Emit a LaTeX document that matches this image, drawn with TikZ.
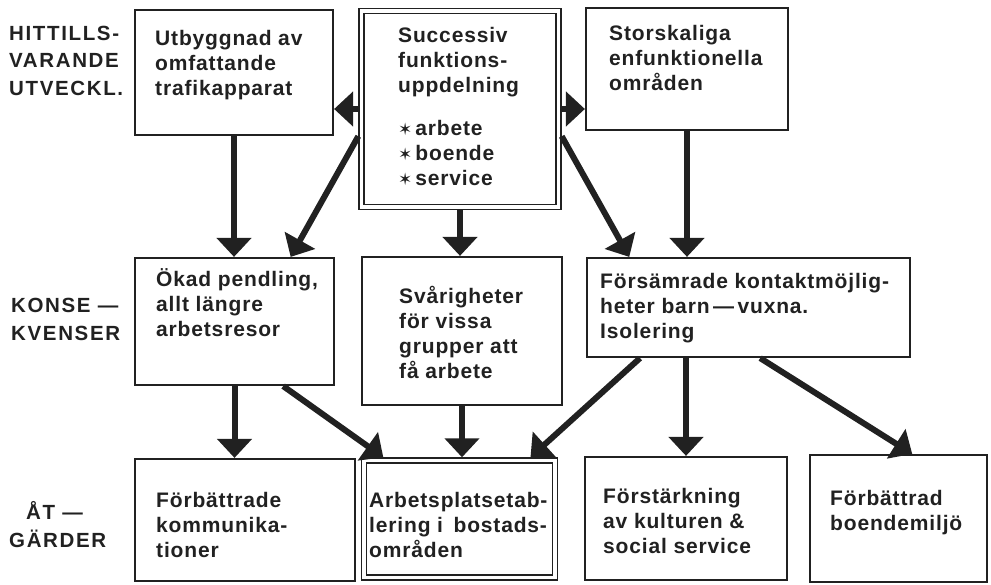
\documentclass[tikz,border=0pt]{standalone}
\usepackage{fontspec}
\usetikzlibrary{arrows.meta}

\newfontfamily\diafont[LetterSpace=4]{Liberation Sans}
\newfontfamily\headfont[LetterSpace=8]{Liberation Sans}
\newfontfamily\starfont{DejaVu Sans}
\definecolor{ink}{gray}{0.13}
\newcommand{\st}{{\starfont\bfseries\fontsize{17}{17}\selectfont ✶}\hspace{3pt}}

\begin{document}
\begin{tikzpicture}[x=1pt, y=-1pt,
  box/.style={draw=ink, line width=2.2pt, rectangle, inner sep=0pt},
  dbox/.style={draw=ink, line width=1.4pt, double=white, double distance=3.6pt, rectangle, inner sep=0pt, outer sep=3.2pt},
  txt/.style={anchor=base west, align=left, inner sep=0pt, text=ink, font=\diafont\bfseries\fontsize{21}{25}\selectfont},
  head/.style={anchor=base west, align=left, inner sep=0pt, text=ink, font=\headfont\bfseries\fontsize{20.5}{27.5}\selectfont},
  link/.style={draw=ink, line width=6pt, -{Triangle[width=34pt,length=19pt]}}]

\useasboundingbox (0,0) rectangle (991,584);

% Draw the boxes
\node[box, minimum width=198pt, minimum height=125pt] (b1) at (234,72.5) {};
\node[dbox, minimum width=197pt, minimum height=195.6pt] (b2) at (460,109) {};
\node[box, minimum width=202pt, minimum height=122pt] (b3) at (687,69) {};
\node[box, minimum width=199pt, minimum height=127pt] (b4) at (234.5,321.5) {};
\node[box, minimum width=200pt, minimum height=148pt] (b5) at (462,331) {};
\node[box, minimum width=323pt, minimum height=99pt] (b6) at (748.5,307.5) {};
\node[box, minimum width=220pt, minimum height=122pt] (b7) at (245,520) {};
\node[dbox, minimum width=191pt, minimum height=117pt] (b8) at (459.5,519) {};
\node[box, minimum width=202pt, minimum height=123pt] (b9) at (686,518.5) {};
\node[box, minimum width=177pt, minimum height=127pt] (b10) at (898.5,518.5) {};

% Texts in the boxes (anchored at the last baseline)
\node[txt] (t1) at (155,95) {Utbyggnad av\\omfattande\\trafikapparat};
\node[txt] (t2) at (398,185) {Successiv\\funktions-\\uppdelning\\[18pt]\st arbete\\\st boende\\\st service};
\node[txt] (t3) at (609,90) {Storskaliga\\enfunktionella\\områden};
\node[txt] (t4) at (156,336) {Ökad pendling,\\allt längre\\arbetsresor};
\node[txt] (t5) at (399,378) {Svårigheter\\för vissa\\grupper att\\få arbete};
\node[txt] (t6) at (600,338) {Försämrade kontaktmöjlig-\\heter barn\,—\,vuxna.\\Isolering};
\node[txt] (t7) at (156,557) {Förbättrade\\kommunika-\\tioner};
\node[txt] (t8) at (369,557) {Arbetsplatsetab-\\lering i\enspace bostads-\\områden};
\node[txt] (t9) at (603,553) {Förstärkning\\av kulturen \&\\social service};
\node[txt] (t10) at (830,530) {Förbättrad\\boendemiljö};

% Row labels
\node[head] (l1) at (9,95) {HITTILLS-\\VARANDE\\UTVECKL.};
\node[head] (l2) at (11,340) {KONSE —\\KVENSER};
\node[head] (l3) at (9,547) {\hspace{17pt}ÅT —\\GÄRDER};

% Draw the arrows
\draw[link] (b2.west) -- (b2.west -| b1.east);
\draw[link] (b2.east) -- (b2.east -| b3.west);
\draw[link] (b1.south) -- (b1.south |- b4.north);
\draw[link] (b2.195) -- (b4.49);
\draw[link] (b2.south) -- (b2.south |- b5.north);
\draw[link] (b2.-15) -- (b6.157);
\draw[link] (b3.south) -- (b3.south |- b6.north);
\draw[link] (b4.south) -- (b4.south |- b7.north);
\draw[link] (b4.-53) -- (b8.141);
\draw[link] (b5.south) -- (b5.south |- b8.north);
\draw[link] (b6.205) -- (b8.41);
\draw[link] (b9.north |- b6.south) -- (b9.north);
\draw[link] (b6.-77) -- (b10.78);

\end{tikzpicture}
\end{document}
